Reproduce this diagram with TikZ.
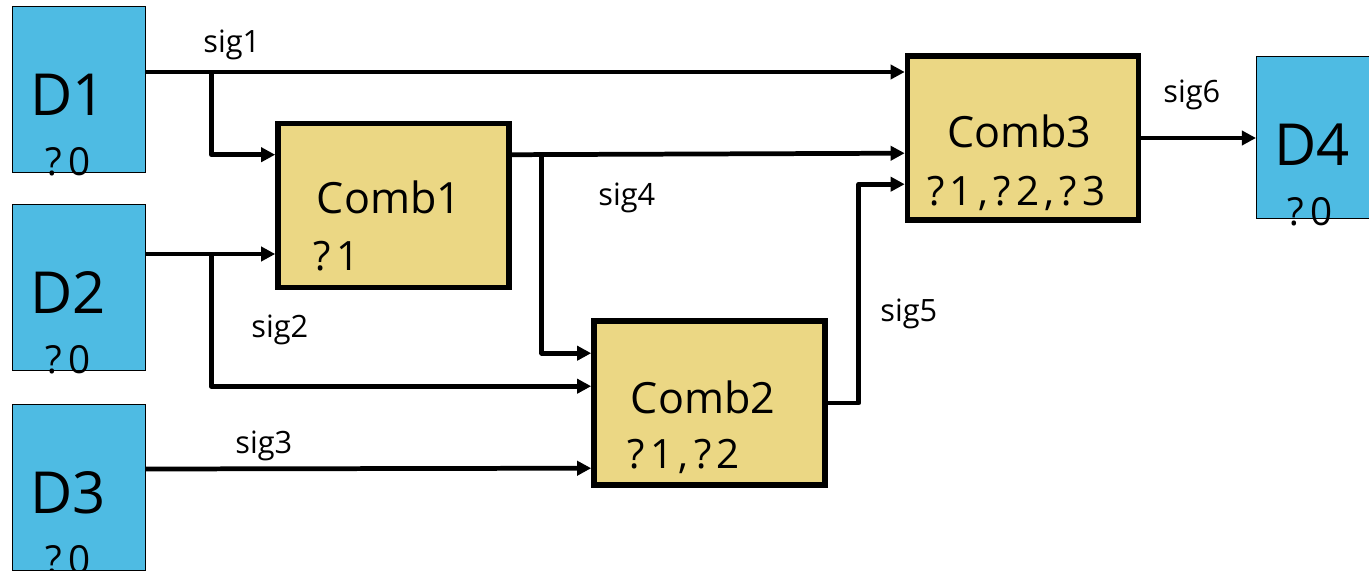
\documentclass[tikz,border=0pt]{standalone}
\usepackage{fontspec}
\setmainfont{Open Sans}
\usetikzlibrary{arrows.meta,calc}
\definecolor{regblue}{RGB}{78,187,227}
\definecolor{combyel}{RGB}{235,215,132}
\tikzset{wire/.style={line width=2.7pt, line join=round, -{Triangle[length=8pt,width=8pt]}},
  reg/.style={draw, fill=regblue, line width=0.7pt, minimum width=2.66cm, minimum height=3.32cm, inner sep=0pt, anchor=north west},
  comb/.style={draw, fill=combyel, line width=3.2pt, minimum width=4.62cm, minimum height=3.28cm, inner sep=0pt},
  regname/.style={font=\fontsize{33}{38}\selectfont, anchor=base west, inner sep=0pt},
  combname/.style={font=\fontsize{24.5}{28}\selectfont, anchor=base west, inner sep=0pt},
  dly/.style={font=\fontsize{22}{26}\selectfont, anchor=base west, inner sep=0pt},
  cdly/.style={font=\fontsize{23}{26}\selectfont, anchor=base west, inner sep=0pt},
  siglbl/.style={font=\fontsize{17.5}{20}\selectfont, anchor=base west, inner sep=0pt}}

\begin{document}
\begin{tikzpicture}[x=0.02cm, y=-0.02cm]
  \useasboundingbox (0,0) rectangle (1369,571);
  % source registers
  \foreach \n/\y in {1/6,2/204,3/404}{
    \node[reg] (d\n) at (12,\y) {};
    \node[regname] (d\n name) at ($(d\n.north west)+(18,109)$) {D\n};
    \node[dly] (d\n dly) at ($(d\n.north west)+(33,169)$) {?\kern4pt0};
  }
  % sink register
  \node[reg, minimum height=3.24cm] (d4) at (1256,56) {};
  \node[regname] (d4name) at ($(d4.north west)+(18,109)$) {D4};
  \node[dly] (d4dly) at ($(d4.north west)+(31,169)$) {?\kern4pt0};
  % combinational blocks
  \node[comb] (c1) at (393.5,205.5) {};
  \node[comb] (c2) at (709.5,403) {};
  \node[comb] (c3) at (1023,138) {};
  \node[combname] (c1name) at ($(c1.center)+(-77,8)$) {Comb1};
  \node[cdly] (c1dly) at ($(c1.center)+(-80,65)$) {?\kern3pt1};
  \node[combname] (c2name) at ($(c2.center)+(-79,10)$) {Comb2};
  \node[cdly] (c2dly) at ($(c2.center)+(-82,65)$) {?\kern3pt1\kern3pt,\kern3pt?\kern3pt2};
  \node[combname] (c3name) at ($(c3.center)+(-76,10)$) {Comb3};
  \node[cdly] (c3dly) at ($(c3.center)+(-96,67)$) {?\kern3pt1\kern3pt,\kern3pt?\kern3pt2\kern3pt,\kern3pt?\kern3pt3};
  % sig1 and its branch
  \coordinate (j1) at ($(d1.north east)+(65,66)$);
  \draw[wire] (d1.east |- j1) -- (c3.west |- j1);
  \draw[wire] (j1) |- ($(c1.north west)+(0,34)$);
  % sig2 and its branch
  \coordinate (j2) at ($(d2.north east)+(65,50)$);
  \draw[wire] (d2.east |- j2) -- (c1.west |- j2);
  \draw[wire] (j2) |- ($(c2.north west)+(0,68)$);
  % sig3
  \draw[wire] ($(d3.north east)+(0,65)$) -- ($(c2.north west)+(0,150)$);
  % sig4 and its branch
  \coordinate (j4) at ($(c1.north east)+(30,34)$);
  \draw[wire] (c1.east |- j4) -- ($(c3.north west)+(0,100)$);
  \draw[wire] (j4) |- ($(c2.north west)+(0,35)$);
  % sig5
  \draw[wire] (c2.east) -- ++(31,0) |- ($(c3.north west)+(0,131)$);
  % sig6
  \draw[wire] (c3.east) -- (d4.west |- c3.east);
  % signal names
  \node[siglbl] (s1) at (203,53) {sig1};
  \node[siglbl] (s2) at (251,337) {sig2};
  \node[siglbl] (s3) at (235,453) {sig3};
  \node[siglbl] (s4) at (598,205) {sig4};
  \node[siglbl] (s5) at (880,321) {sig5};
  \node[siglbl] (s6) at (1163,103) {sig6};
\end{tikzpicture}
\end{document}
